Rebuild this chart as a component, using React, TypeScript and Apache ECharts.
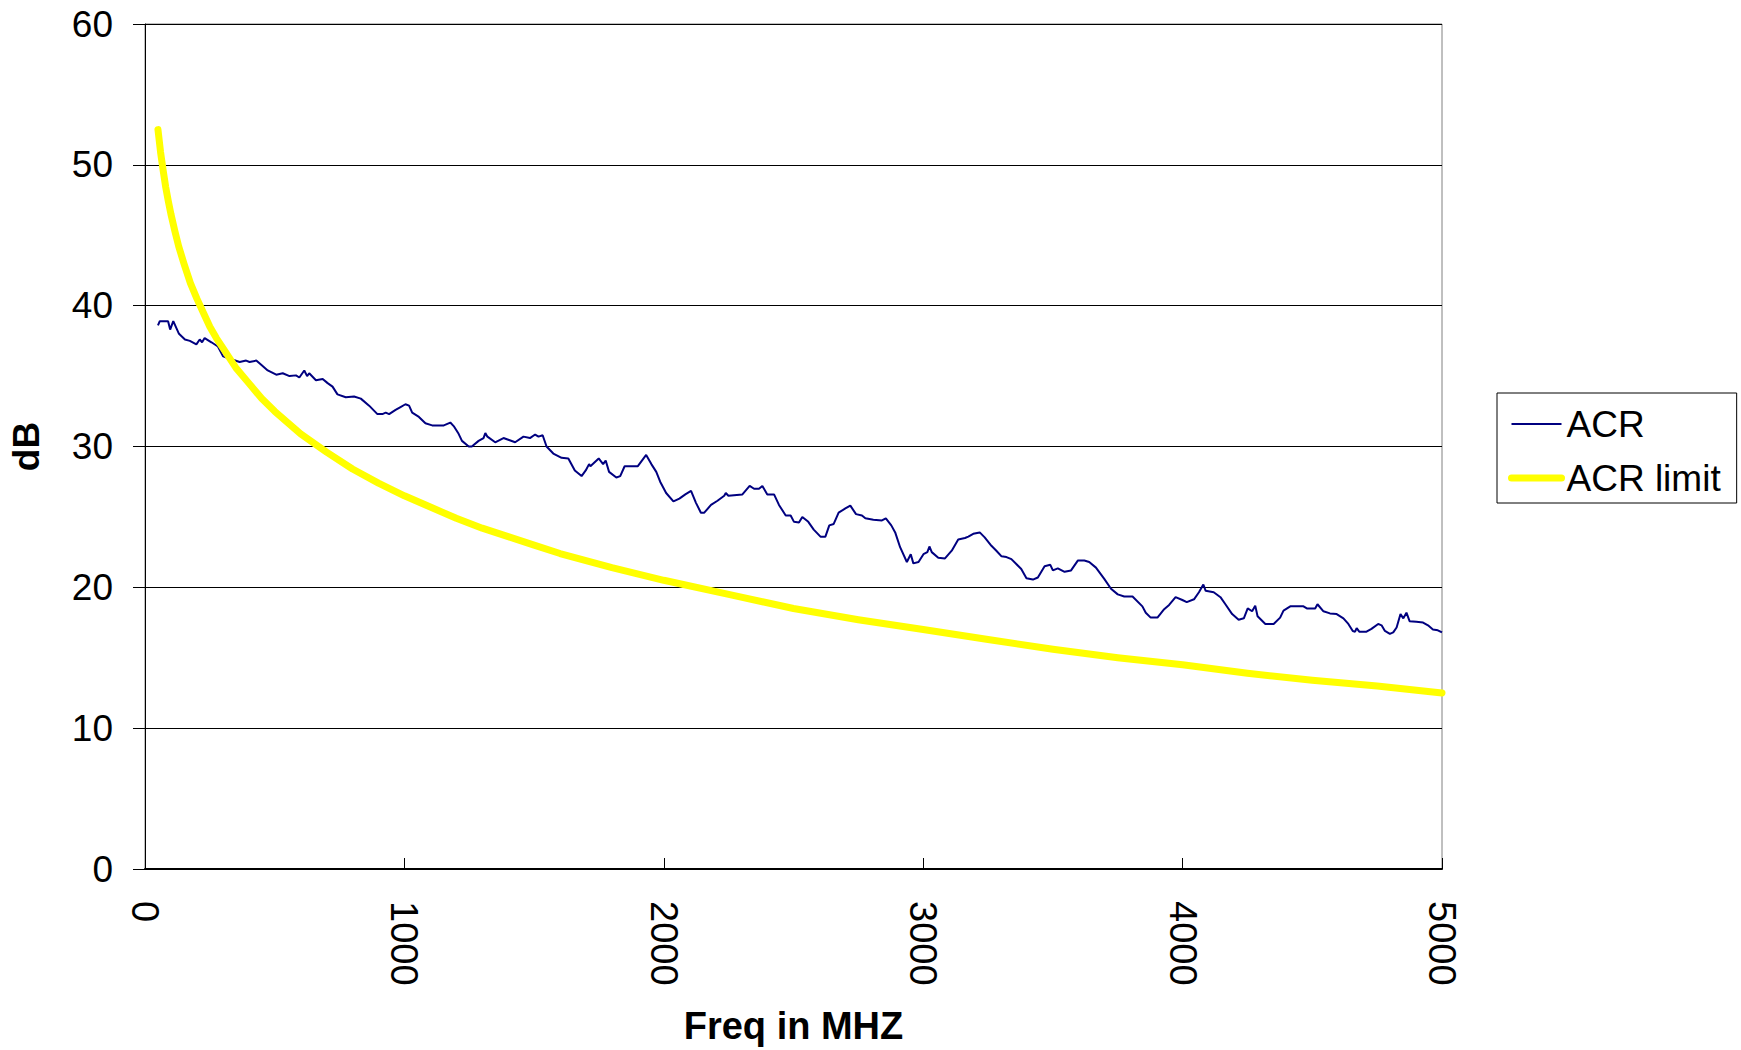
import React, { useEffect, useRef } from "react";
import * as echarts from "echarts";

// ACR measured curve: frequency (MHz) and value (dB)
const acrFreq = [
  50, 57, 89, 97, 109, 131, 154, 173, 198, 211, 220, 230, 256, 281, 301, 333, 365, 390, 403, 429,
  448, 473, 506, 531, 557, 582, 595, 614, 625, 633, 659, 685, 704, 723, 742, 774, 806, 832, 864, 896,
  915, 928, 941, 966, 985, 1004, 1018, 1030, 1056, 1081, 1107, 1152, 1177, 1190, 1209, 1222, 1248, 1260, 1286, 1305,
  1312, 1320, 1350, 1382, 1427, 1459, 1484, 1504, 1517, 1533, 1548, 1574, 1606, 1632, 1657, 1683, 1699, 1712, 1717, 1749,
  1766, 1776, 1789, 1817, 1832, 1849, 1900, 1932, 1952, 1971, 1986, 2009, 2037, 2060, 2083, 2105, 2124, 2143, 2156, 2182,
  2207, 2233, 2239, 2249, 2303, 2331, 2348, 2367, 2380, 2399, 2425, 2444, 2470, 2489, 2502, 2521, 2534, 2557, 2578, 2604,
  2623, 2638, 2655, 2674, 2700, 2719, 2741, 2764, 2777, 2808, 2841, 2856, 2877, 2892, 2911, 2937, 2952, 2962, 2982, 3001,
  3016, 3024, 3033, 3058, 3084, 3110, 3135, 3161, 3174, 3193, 3218, 3237, 3263, 3282, 3302, 3321, 3340, 3378, 3398, 3423,
  3442, 3468, 3490, 3500, 3519, 3545, 3570, 3596, 3621, 3640, 3666, 3698, 3724, 3750, 3775, 3807, 3845, 3858, 3877, 3903,
  3929, 3948, 3973, 3999, 4016, 4044, 4063, 4080, 4089, 4120, 4146, 4165, 4191, 4216, 4236, 4251, 4268, 4280, 4289, 4319,
  4351, 4376, 4389, 4415, 4466, 4479, 4511, 4520, 4543, 4568, 4594, 4620, 4639, 4656, 4665, 4671, 4681, 4709, 4728, 4754,
  4767, 4780, 4799, 4812, 4825, 4840, 4851, 4863, 4875, 4901, 4927, 4946, 4965, 4984, 5000,
];
const acrValue = [
  38.6, 38.9, 38.9, 38.3, 38.9, 38.0, 37.6, 37.5, 37.25, 37.6, 37.4, 37.7, 37.4, 37.1, 36.4, 36.2, 36.0, 36.1, 36.0, 36.1,
  35.8, 35.4, 35.1, 35.2, 35.0, 35.05, 34.9, 35.4, 35.0, 35.2, 34.7, 34.8, 34.5, 34.25, 33.7, 33.5, 33.55, 33.4, 32.9, 32.3,
  32.3, 32.4, 32.3, 32.6, 32.8, 33.0, 32.9, 32.4, 32.1, 31.65, 31.5, 31.5, 31.7, 31.45, 30.9, 30.4, 30.0, 30.0, 30.4, 30.6,
  30.95, 30.7, 30.3, 30.6, 30.3, 30.7, 30.6, 30.85, 30.7, 30.8, 30.0, 29.5, 29.2, 29.15, 28.3, 27.9, 28.3, 28.75, 28.6, 29.15,
  28.75, 29.0, 28.2, 27.8, 27.9, 28.6, 28.6, 29.4, 28.75, 28.2, 27.5, 26.7, 26.1, 26.3, 26.6, 26.85, 26.0, 25.3, 25.3, 25.85,
  26.15, 26.5, 26.7, 26.5, 26.6, 27.2, 27.0, 27.0, 27.2, 26.6, 26.6, 25.85, 25.1, 25.1, 24.65, 24.6, 25.0, 24.65, 24.1, 23.6,
  23.6, 24.4, 24.5, 25.3, 25.6, 25.8, 25.2, 25.1, 24.9, 24.8, 24.75, 24.9, 24.4, 23.9, 22.85, 21.8, 22.35, 21.7, 21.8, 22.35,
  22.5, 22.9, 22.5, 22.1, 22.05, 22.6, 23.4, 23.5, 23.6, 23.8, 23.9, 23.55, 22.95, 22.6, 22.2, 22.15, 22.0, 21.3, 20.65, 20.55,
  20.7, 21.5, 21.6, 21.2, 21.35, 21.1, 21.2, 21.9, 21.9, 21.8, 21.4, 20.6, 19.9, 19.5, 19.35, 19.35, 18.65, 18.2, 17.85, 17.85,
  18.45, 18.75, 19.3, 19.1, 18.95, 19.15, 19.65, 20.2, 19.75, 19.65, 19.3, 18.8, 18.1, 17.7, 17.8, 18.5, 18.3, 18.7, 17.95, 17.4,
  17.4, 17.85, 18.35, 18.65, 18.65, 18.5, 18.5, 18.8, 18.3, 18.15, 18.1, 17.8, 17.4, 16.9, 16.85, 17.1, 16.85, 16.85, 17.05, 17.4,
  17.3, 16.9, 16.7, 16.8, 17.15, 18.1, 17.8, 18.2, 17.6, 17.55, 17.5, 17.3, 17.0, 16.95, 16.8,
];

// ACR limit curve
const limitFreq = [
  50, 55, 60, 70, 80, 90, 100, 115, 130, 150, 175, 200, 225, 250, 275, 300, 350, 400, 450, 500,
  550, 600, 700, 800, 900, 1000, 1100, 1200, 1300, 1400, 1500, 1600, 1800, 2000, 2250, 2500, 2750, 3000, 3250, 3500,
  3750, 4000, 4250, 4500, 4750, 5000,
];
const limitValue = [
  52.5, 51.7, 50.9, 49.6, 48.4, 47.4, 46.5, 45.3, 44.2, 43.0, 41.6, 40.5, 39.5, 38.5, 37.7, 37.0, 35.6, 34.5, 33.4, 32.5,
  31.7, 30.9, 29.6, 28.4, 27.4, 26.5, 25.7, 24.9, 24.2, 23.6, 23.0, 22.4, 21.4, 20.5, 19.5, 18.5, 17.7, 17.0, 16.3, 15.6,
  15.0, 14.5, 13.9, 13.4, 13.0, 12.5,
];

const seriesNames = ["ACR", "ACR limit"];
const xAxisTitle = "Freq in MHZ";
const yAxisTitle = "dB";

const FONT = "'Liberation Sans', Arial, Helvetica, sans-serif";

export default function App() {
  const ref = useRef<HTMLDivElement>(null);

  useEffect(() => {
    if (!ref.current) return;
    const chart = echarts.init(ref.current, undefined, { renderer: "svg" });
    const acrData = acrFreq.map((f, i) => [f, acrValue[i]]);
    const limitData = limitFreq.map((f, i) => [f, limitValue[i]]);

    chart.setOption({
      animation: false,
      backgroundColor: "#ffffff",
      textStyle: { fontFamily: FONT },
      grid: {
        left: 140,
        right: 299,
        top: 24,
        bottom: 180,
        show: true,
        borderColor: "#808080",
        borderWidth: 1,
        backgroundColor: "transparent",
      },
      legend: {
        orient: "vertical",
        left: 1497,
        top: 393,
        padding: [11, 16, 5, 11],
        itemGap: 14,
        itemWidth: 50,
        itemHeight: 14,
        borderColor: "#000",
        borderWidth: 1,
        backgroundColor: "#fff",
        data: seriesNames,
        itemStyle: { opacity: 0 },
        lineStyle: { width: "inherit" },
        textStyle: { fontSize: 37, color: "#000", fontFamily: FONT, lineHeight: 40 },
      },
      xAxis: {
        type: "value",
        min: 0,
        max: 5000,
        interval: 1000,
        name: xAxisTitle,
        nameLocation: "middle",
        nameGap: 138,
        nameTextStyle: { fontSize: 38, fontWeight: "bold", color: "#000", fontFamily: FONT },
        axisLine: { show: true, onZero: false, lineStyle: { color: "#000", width: 2 } },
        axisTick: { show: true, inside: true, length: 11, lineStyle: { color: "#000", width: 1 } },
        axisLabel: {
          rotate: -90,
          margin: 32,
          fontSize: 38,
          color: "#000",
          fontFamily: FONT,
          formatter: (v: number) => String(v),
        },
        splitLine: { show: false },
      },
      yAxis: {
        type: "value",
        min: 0,
        max: 60,
        interval: 10,
        name: yAxisTitle,
        nameLocation: "middle",
        nameGap: 100,
        nameRotate: 90,
        nameTextStyle: { fontSize: 37, fontWeight: "bold", color: "#000", fontFamily: FONT },
        axisLine: { show: true, lineStyle: { color: "#000", width: 1 } },
        axisTick: { show: true, inside: false, length: 12, lineStyle: { color: "#000", width: 1 } },
        axisLabel: { margin: 32, fontSize: 37, color: "#000", fontFamily: FONT, formatter: (v: number) => String(v) },
        splitLine: { show: true, lineStyle: { color: "#000", width: 1 } },
      },
      series: [
        {
          name: seriesNames[0],
          type: "line",
          data: acrData,
          symbol: "none",
          lineStyle: { color: "#000080", width: 2 },
          itemStyle: { color: "#000080" },
        },
        {
          name: seriesNames[1],
          type: "line",
          data: limitData,
          symbol: "none",
          smooth: false,
          lineStyle: { color: "#FFFF00", width: 7, cap: "round", join: "round" },
          itemStyle: { color: "#FFFF00" },
        },
      ],
    });
    return () => chart.dispose();
  }, []);

  return (
    <div
      ref={ref}
      style={{ position: "fixed", left: 0, top: 0, width: 1741, height: 1050, background: "#fff" }}
    />
  );
}
